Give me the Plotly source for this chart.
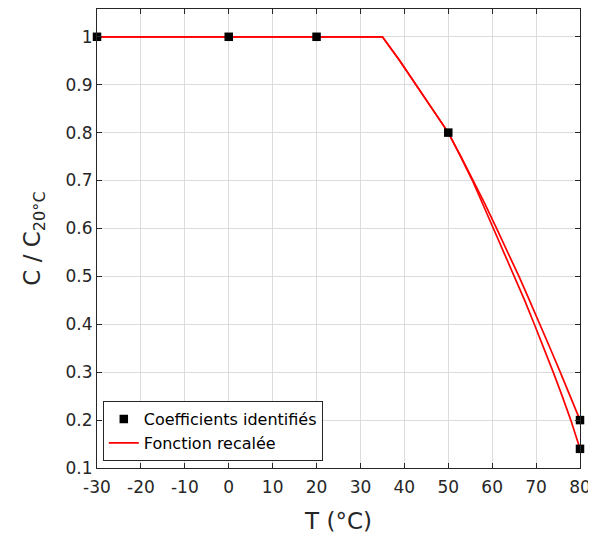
import plotly.graph_objects as go

# Identified coefficients
coef_T = [-30, 0, 20, 50, 80, 80]
coef_v = [1.0, 1.0, 1.0, 0.8, 0.2, 0.14]

# Fitted function, curve A (ends at 0.2)
fitA_T = [-30, 35, 38.8, 42.6, 46.4, 50, 52.9, 55.7, 58.4, 61.0, 63.6, 66.1, 68.5, 70.9, 73.2, 75.5, 77.8, 80]
fitA_v = [1.0, 1.0, 0.952, 0.9, 0.85, 0.8, 0.75, 0.7, 0.65, 0.6, 0.55, 0.5, 0.45, 0.4, 0.35, 0.3, 0.25, 0.2]

# Fitted function, curve B (ends at 0.14)
fitB_T = [-30, 35, 38.8, 42.6, 46.4, 50, 52.8, 55.5, 57.9, 60.3, 62.7, 65.1, 67.4, 69.6, 71.8, 73.9, 75.95, 77.9, 80]
fitB_v = [1.0, 1.0, 0.952, 0.9, 0.85, 0.8, 0.75, 0.7, 0.65, 0.6, 0.55, 0.5, 0.45, 0.4, 0.35, 0.3, 0.25, 0.2, 0.14]

x_ticks = [-30, -20, -10, 0, 10, 20, 30, 40, 50, 60, 70, 80]
x_tick_labels = ["-30", "-20", "-10", "0", "10", "20", "30", "40", "50", "60", "70", "80"]
y_ticks = [0.1, 0.2, 0.3, 0.4, 0.5, 0.6, 0.7, 0.8, 0.9, 1.0]
y_tick_labels = ["0.1", "0.2", "0.3", "0.4", "0.5", "0.6", "0.7", "0.8", "0.9", "1"]

fig = go.Figure()
fig.add_trace(go.Scatter(x=fitA_T, y=fitA_v, mode="lines", name="Fonction recalée",
                         line=dict(color="#ff0000", width=1.7)))
fig.add_trace(go.Scatter(x=fitB_T, y=fitB_v, mode="lines", name="Fonction recalée", showlegend=False,
                         line=dict(color="#ff0000", width=1.7)))
fig.add_trace(go.Scatter(x=coef_T, y=coef_v, mode="markers", name="Coefficients identifiés",
                         marker=dict(symbol="square", size=8.5, color="black"), cliponaxis=False))

axis_common = dict(showgrid=True, gridcolor="#dcdcdc", gridwidth=1, showline=True, linecolor="#262626",
                   linewidth=1, mirror="ticks", ticks="inside", ticklen=5, tickcolor="#262626",
                   zeroline=False, automargin=False,
                   tickfont=dict(family="DejaVu Sans", size=17, color="#262626"))

# The page body adds an 8px offset; figure sized so plot area lands where the reference has it.
fig.update_layout(
    width=588, height=529,
    margin=dict(l=89, r=16, t=1, b=69),
    paper_bgcolor="white", plot_bgcolor="white",
    font=dict(family="DejaVu Sans", color="#262626"),
    xaxis=dict(range=[-30, 80], tickvals=x_ticks, ticktext=x_tick_labels, ticklabelstandoff=4,
               title=dict(text="T (°C)", font=dict(size=23), standoff=16), **axis_common),
    yaxis=dict(range=[0.1, 1.058], tickvals=y_ticks, ticktext=y_tick_labels,
               title=dict(text="C / C<sub>20°C</sub>", font=dict(size=23), standoff=18), **axis_common),
    legend=dict(x=0.012, y=0.015, xanchor="left", yanchor="bottom", bgcolor="white",
                bordercolor="#262626", borderwidth=1, font=dict(size=16, color="black"),
                tracegroupgap=0, itemwidth=30, traceorder="reversed"),
    showlegend=True,
)

fig.write_html("out.html")
